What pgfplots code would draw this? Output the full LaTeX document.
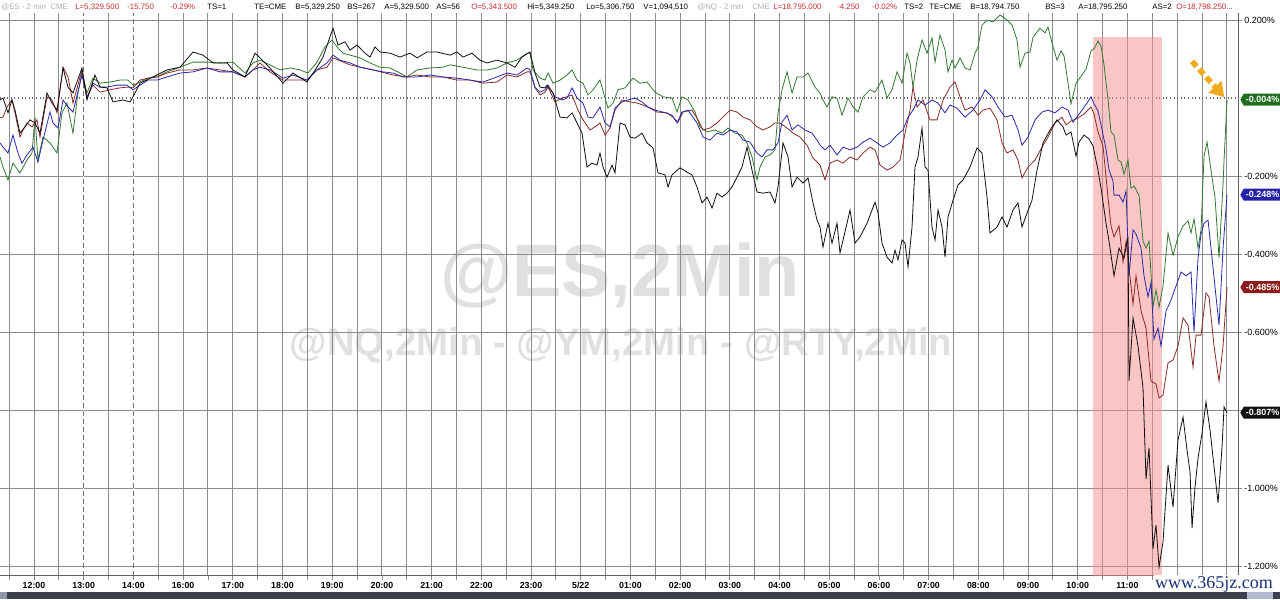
\documentclass[border=0pt]{standalone}
\usepackage{fontspec}
\setmainfont{Liberation Sans}
\usepackage{pgfplots}
\pgfplotsset{compat=1.18}
\usetikzlibrary{arrows.meta,shapes.symbols}

\definecolor{esblack}{RGB}{15,15,15}
\definecolor{nqblue}{RGB}{40,40,170}
\definecolor{ymred}{RGB}{140,40,40}
\definecolor{rtygreen}{RGB}{50,120,50}
\definecolor{gridgray}{RGB}{140,140,140}
\definecolor{hdrred}{RGB}{200,45,45}
\definecolor{hdrgray}{RGB}{175,175,175}
\definecolor{wmgray}{RGB}{224,224,224}
\definecolor{bandpink}{RGB}{245,140,140}
\definecolor{arroworange}{RGB}{240,170,30}
\definecolor{sitenavy}{RGB}{25,50,120}
\definecolor{barslate}{RGB}{58,64,76}
\definecolor{barlight}{RGB}{178,188,206}
\definecolor{taggreen}{RGB}{30,110,30}
\definecolor{tagblue}{RGB}{35,35,170}
\definecolor{tagred}{RGB}{140,28,28}
\definecolor{tagblack}{RGB}{17,17,17}

\newcommand\hdr{\fontsize{5.9}{7}\selectfont}
\tikzset{tag/.style={signal, signal to=west, signal pointer angle=120, anchor=west, xshift=1.5pt,
    inner xsep=1.5pt, inner ysep=1.2pt, minimum height=9pt, text=white,
    font=\bfseries\fontsize{6.75}{7}\selectfont}}

\begin{document}
\begin{tikzpicture}
\useasboundingbox (0,-17.25pt) rectangle (960pt,432pt);

% decorations in pixel coordinates of the screenshot
\begin{scope}[x=0.75pt,y=-0.75pt,shift={(0,432pt)}]
  \node[anchor=base,text=wmgray,font=\bfseries\fontsize{55.5}{56}\selectfont,inner sep=0] at (620,297) {@ES,2Min};
  \node[anchor=base,text=wmgray,font=\bfseries\fontsize{28.8}{29}\selectfont,inner sep=0] at (621,356) {@NQ,2Min - @YM,2Min - @RTY,2Min};
  \begin{scope}[every node/.style={anchor=base west,inner sep=0,font=\hdr}]
    \node[text=hdrgray] at (1,10) {@ES - 2 min\ \ CME};
    \node[text=hdrred] at (75,10) {L=5,329.500};
    \node[text=hdrred] at (127,10) {-15.750};
    \node[text=hdrred] at (170,10) {-0.29\%};
    \node at (207,10) {TS=1};
    \node at (254,10) {TE=CME};
    \node at (295,10) {B=5,329.250};
    \node at (347,10) {BS=267};
    \node at (384,10) {A=5,329.500};
    \node at (436,10) {AS=56};
    \node[text=hdrred] at (471,10) {O=5,343.500};
    \node at (527,10) {Hi=5,349.250};
    \node at (586,10) {Lo=5,306.750};
    \node at (643,10) {V=1,094,510};
    \node[text=hdrgray] at (697,10) {@NQ - 2 min};
    \node[text=hdrgray] at (752,10) {CME};
    \node[text=hdrred] at (773,10) {L=18,795.000};
    \node[text=hdrred] at (837,10) {-4.250};
    \node[text=hdrred] at (872,10) {-0.02\%};
    \node at (904,10) {TS=2};
    \node at (929,10) {TE=CME};
    \node at (970,10) {B=18,794.750};
    \node at (1045,10) {BS=3};
    \node at (1078,10) {A=18,795.250};
    \node at (1152,10) {AS=2};
    \node[text=hdrred] at (1176,10) {O=18,798.250...};
  \end{scope}
\end{scope}

\begin{axis}[
  at={(0,0)}, anchor=south west,
  scale only axis, width=928.5pt, height=422.25pt,
  xmin=-0.684, xmax=24.225, ymin=-1.2256, ymax=0.218,
  axis x line*=bottom, axis y line*=right,
  axis line style={draw={rgb,255:red,95;green,95;blue,95}, line width=0.75pt},
  tick align=outside, major tick length=3pt, minor tick length=3pt,
  tick style={gridgray, line width=0.6pt},
  xtick={0,...,22},
  xticklabels={12:00,13:00,14:00,16:00,17:00,18:00,19:00,20:00,21:00,22:00,23:00,5/22,01:00,02:00,03:00,04:00,05:00,06:00,07:00,08:00,09:00,10:00,11:00},
  minor xtick={-0.5,0.5,...,21.5,22.5,23,23.5,24},
  xmajorgrids, xminorgrids, ymajorgrids,
  major grid style={gridgray, line width=0.7pt},
  minor grid style={gridgray, line width=0.7pt},
  ytick={0.2,-0.2,-0.4,-0.6,-0.8,-1.0,-1.2},
  yticklabels={0.200\%,-0.200\%,-0.400\%,-0.600\%,,-1.000\%,-1.200\%},
  extra y ticks={0}, extra y tick labels={},
  extra y tick style={major tick length=0pt, grid=major, major grid style={gridgray!75!black, dotted, line width=0.8pt}},
  xticklabel style={font=\bfseries\fontsize{6.6}{7}\selectfont, inner sep=1.5pt},
  yticklabel style={font=\fontsize{6.75}{7}\selectfont, inner sep=1.5pt},
  clip mode=individual,
]

% session break markers at 13:00 and 14:00
\draw[white, line width=1.2pt] (axis cs:1,-1.2256) -- (axis cs:1,0.218);
\draw[white, line width=1.2pt] (axis cs:2,-1.2256) -- (axis cs:2,0.218);
\draw[gridgray!80!black, line width=0.7pt, dash pattern=on 4pt off 2pt] (axis cs:1,-1.2256) -- (axis cs:1,0.218);
\draw[gridgray!80!black, line width=0.7pt, dash pattern=on 4pt off 2pt] (axis cs:2,-1.2256) -- (axis cs:2,0.218);

% highlighted selloff window
\addplot[draw=none, fill=bandpink, fill opacity=0.5] coordinates {
  (21.308,0.156) (22.696,0.156) (22.696,-1.2256) (21.308,-1.2256)} -- cycle;

% RTY (green)
\addplot[rtygreen, line width=0.6pt] coordinates {
(-0.684,-0.151) (-0.624,-0.177) (-0.523,-0.210) (-0.423,-0.167) (-0.282,-0.192) (-0.141,-0.159)
(-0.040,-0.141) (0.020,-0.049) (0.080,-0.159) (0.181,-0.100) (0.322,-0.115) (0.463,-0.141)
(0.563,-0.038) (0.664,-0.013) (0.785,-0.090) (0.885,0.013) (0.966,0.067) (1.066,0.013)
(1.187,0.051) (1.328,0.038) (1.529,0.041) (1.730,0.046) (1.891,0.046) (1.992,0.033)
(2.133,0.041) (2.294,0.051) (2.475,0.054) (2.676,0.067) (2.938,0.079) (3.199,0.092)
(3.481,0.092) (3.742,0.090) (4.004,0.092) (4.245,0.064) (4.406,0.090) (4.547,0.097)
(4.748,0.085) (4.950,0.072) (5.151,0.077) (5.352,0.072) (5.513,0.064) (5.694,0.092)
(5.855,0.131) (5.996,0.149) (6.117,0.128) (6.217,0.115) (6.358,0.110) (6.559,0.103)
(6.761,0.090) (6.962,0.079) (7.163,0.077) (7.364,0.064) (7.505,0.054) (7.706,0.072)
(7.968,0.077) (8.229,0.079) (8.370,0.085) (8.632,0.079) (8.913,0.072) (9.115,0.072)
(9.316,0.077) (9.517,0.090) (9.718,0.097) (9.920,0.115) (9.980,0.115) (10.040,0.072)
(10.181,0.051) (10.282,0.046) (10.342,0.064) (10.443,0.038) (10.584,0.046) (10.724,0.059)
(10.825,0.072) (10.926,0.046) (11.046,0.038) (11.147,0.008) (11.247,0.021) (11.388,0.046)
(11.489,0.000) (11.549,-0.026) (11.650,-0.013) (11.751,0.021) (11.891,0.026) (12.052,0.051)
(12.193,0.038) (12.334,0.041) (12.495,0.015) (12.656,0.003) (12.837,0.000) (12.938,-0.036)
(13.038,0.003) (13.159,-0.005) (13.300,-0.036) (13.400,-0.074) (13.541,-0.087) (13.702,-0.082)
(13.843,-0.090) (13.964,-0.077) (14.105,-0.090) (14.245,-0.095) (14.346,-0.115) (14.447,-0.151)
(14.547,-0.210) (14.608,-0.177) (14.708,-0.151) (14.809,-0.146) (14.909,-0.133) (14.970,-0.038)
(15.050,0.021) (15.151,0.067) (15.252,0.013) (15.352,0.054) (15.473,0.054) (15.573,0.064)
(15.714,0.028) (15.815,0.013) (15.875,-0.005) (15.956,-0.023) (16.056,0.003) (16.157,0.000)
(16.258,-0.044) (16.378,0.000) (16.479,-0.023) (16.579,-0.036) (16.680,0.003) (16.821,0.021)
(16.922,0.015) (17.062,0.046) (17.163,0.000) (17.264,0.021) (17.364,0.067) (17.465,0.038)
(17.565,0.115) (17.626,0.090) (17.686,0.028) (17.767,0.097) (17.867,0.149) (17.968,0.115)
(18.068,0.154) (18.129,0.092) (18.229,0.162) (18.330,0.123) (18.390,0.067) (18.471,0.097)
(18.531,0.077) (18.632,0.103) (18.732,0.077) (18.833,0.072) (18.934,0.115) (18.994,0.131)
(19.074,0.187) (19.175,0.200) (19.296,0.195) (19.437,0.213) (19.577,0.200) (19.678,0.187)
(19.779,0.149) (19.839,0.079) (19.940,0.115) (20.040,0.118) (20.101,0.156) (20.241,0.179)
(20.342,0.167) (20.402,0.182) (20.483,0.141) (20.583,0.097) (20.664,0.121) (20.724,0.108)
(20.805,0.038) (20.865,-0.015) (20.966,0.038) (21.066,0.056) (21.167,0.074) (21.268,0.121)
(21.328,0.126) (21.408,0.146) (21.469,0.133) (21.529,0.085) (21.610,-0.005) (21.670,-0.087)
(21.730,-0.095) (21.811,-0.159) (21.871,-0.164) (21.932,-0.195) (22.012,-0.159) (22.072,-0.231)
(22.133,-0.226) (22.233,-0.249) (22.314,-0.367) (22.374,-0.385) (22.435,-0.367) (22.515,-0.536)
(22.575,-0.492) (22.636,-0.536) (22.716,-0.482) (22.817,-0.346) (22.917,-0.403) (23.018,-0.356)
(23.119,-0.328) (23.219,-0.315) (23.280,-0.346) (23.340,-0.310) (23.421,-0.385) (23.481,-0.338)
(23.541,-0.149) (23.602,-0.113) (23.682,-0.185) (23.763,-0.256) (23.843,-0.410) (23.924,-0.221)
(23.944,-0.159) (24.004,-0.004)};

% YM (maroon)
\addplot[ymred, line width=0.6pt] coordinates {
(-0.684,-0.051) (-0.624,-0.049) (-0.543,-0.023) (-0.443,-0.005) (-0.382,-0.038) (-0.282,-0.100)
(-0.221,-0.082) (-0.141,-0.064) (-0.040,-0.074) (0.060,-0.056) (0.121,-0.100) (0.262,0.003)
(0.362,-0.005) (0.463,-0.038) (0.584,0.079) (0.684,0.054) (0.785,-0.013) (0.966,0.072)
(1.066,0.003) (1.187,0.033) (1.328,0.015) (1.529,0.021) (1.730,0.026) (1.891,0.028)
(1.992,0.026) (2.133,0.046) (2.294,0.051) (2.475,0.054) (2.676,0.064) (2.938,0.072)
(3.199,0.072) (3.481,0.077) (3.742,0.072) (4.004,0.067) (4.245,0.054) (4.406,0.072)
(4.547,0.090) (4.748,0.067) (5.010,0.046) (5.493,0.046) (5.694,0.072) (5.895,0.079)
(6.016,0.103) (6.358,0.085) (6.821,0.072) (7.223,0.059) (7.505,0.054) (7.706,0.059)
(7.968,0.054) (8.229,0.054) (8.511,0.046) (8.773,0.046) (9.034,0.038) (9.316,0.041)
(9.517,0.059) (9.718,0.054) (9.920,0.067) (9.980,0.067) (10.080,0.026) (10.181,0.008)
(10.282,0.015) (10.342,0.028) (10.483,-0.010) (10.624,0.000) (10.724,0.003) (10.825,0.008)
(10.946,-0.031) (11.046,-0.056) (11.187,-0.082) (11.288,-0.074) (11.388,-0.064) (11.489,-0.095)
(11.590,-0.077) (11.690,-0.031) (11.831,-0.005) (11.992,-0.010) (12.133,-0.013) (12.254,-0.018)
(12.394,-0.026) (12.535,-0.036) (12.736,-0.038) (12.857,-0.049) (12.958,-0.062) (13.058,-0.036)
(13.239,-0.031) (13.360,-0.056) (13.461,-0.082) (13.602,-0.077) (13.742,-0.064) (13.863,-0.049)
(14.004,-0.031) (14.145,-0.036) (14.266,-0.049) (14.406,-0.056) (14.547,-0.074) (14.668,-0.082)
(14.809,-0.074) (14.909,-0.064) (15.010,-0.064) (15.151,-0.077) (15.272,-0.090) (15.412,-0.100)
(15.553,-0.121) (15.674,-0.154) (15.815,-0.172) (15.915,-0.210) (16.016,-0.167) (16.157,-0.159)
(16.278,-0.167) (16.419,-0.151) (16.559,-0.159) (16.680,-0.141) (16.821,-0.126) (16.922,-0.133)
(17.022,-0.172) (17.163,-0.185) (17.284,-0.177) (17.425,-0.159) (17.525,-0.090) (17.626,-0.031)
(17.686,0.028) (17.767,-0.023) (17.887,-0.005) (18.028,-0.056) (18.169,-0.056) (18.290,-0.005)
(18.431,0.028) (18.531,0.041) (18.632,0.003) (18.732,-0.031) (18.873,-0.023) (18.994,-0.044)
(19.095,-0.031) (19.235,-0.026) (19.376,-0.056) (19.477,-0.115) (19.577,-0.141) (19.698,-0.133)
(19.799,-0.159) (19.879,-0.205) (20.000,-0.177) (20.141,-0.159) (20.282,-0.126) (20.402,-0.100)
(20.543,-0.064) (20.684,-0.049) (20.765,-0.069) (20.865,-0.059) (21.006,-0.051) (21.127,-0.041)
(21.268,-0.023) (21.328,-0.041) (21.408,-0.087) (21.509,-0.123) (21.610,-0.256) (21.670,-0.328)
(21.730,-0.356) (21.831,-0.328) (21.911,-0.421) (21.972,-0.367) (22.032,-0.438) (22.113,-0.528)
(22.173,-0.456) (22.274,-0.546) (22.374,-0.590) (22.475,-0.726) (22.575,-0.733) (22.636,-0.769)
(22.716,-0.762) (22.817,-0.679) (22.917,-0.672) (23.018,-0.636) (23.119,-0.564) (23.219,-0.582)
(23.320,-0.690) (23.380,-0.608) (23.481,-0.608) (23.581,-0.500) (23.642,-0.510) (23.742,-0.636)
(23.843,-0.726) (23.924,-0.636) (24.004,-0.485)};

% NQ (blue)
\addplot[nqblue, line width=0.6pt] coordinates {
(-0.684,-0.115) (-0.624,-0.126) (-0.523,-0.141) (-0.423,-0.095) (-0.322,-0.141) (-0.241,-0.167)
(-0.141,-0.146) (-0.020,-0.126) (0.080,-0.164) (0.181,-0.108) (0.322,-0.036) (0.382,-0.064)
(0.483,-0.077) (0.584,-0.005) (0.684,-0.023) (0.785,-0.036) (0.966,0.059) (1.066,0.000)
(1.187,0.038) (1.328,0.028) (1.469,0.028) (1.670,0.033) (1.871,0.033) (1.992,0.021)
(2.133,0.033) (2.294,0.046) (2.475,0.046) (2.676,0.054) (2.938,0.064) (3.199,0.067)
(3.481,0.077) (3.742,0.067) (4.004,0.067) (4.245,0.054) (4.406,0.072) (4.547,0.079)
(4.748,0.072) (5.010,0.051) (5.211,0.059) (5.493,0.046) (5.694,0.072) (5.895,0.090)
(6.016,0.110) (6.157,0.097) (6.358,0.090) (6.559,0.079) (6.821,0.072) (7.022,0.067)
(7.223,0.064) (7.425,0.054) (7.706,0.054) (7.968,0.059) (8.229,0.054) (8.511,0.051)
(8.773,0.046) (9.034,0.041) (9.316,0.054) (9.517,0.064) (9.718,0.059) (9.920,0.077)
(9.980,0.072) (10.080,0.028) (10.181,0.015) (10.282,0.021) (10.342,0.033) (10.483,0.003)
(10.624,-0.005) (10.724,0.000) (10.825,0.026) (10.926,0.000) (11.046,-0.013) (11.147,-0.049)
(11.247,-0.051) (11.388,-0.023) (11.489,-0.064) (11.590,-0.074) (11.690,-0.026) (11.831,-0.010)
(11.952,-0.005) (12.093,0.000) (12.233,-0.010) (12.354,-0.023) (12.495,-0.031) (12.656,-0.036)
(12.837,-0.044) (12.938,-0.064) (13.038,-0.036) (13.159,-0.031) (13.340,-0.064) (13.461,-0.100)
(13.602,-0.108) (13.742,-0.090) (13.863,-0.095) (14.004,-0.082) (14.145,-0.087) (14.266,-0.108)
(14.406,-0.113) (14.547,-0.141) (14.648,-0.151) (14.748,-0.133) (14.869,-0.133) (14.970,-0.115)
(15.050,-0.062) (15.151,-0.044) (15.252,-0.082) (15.372,-0.069) (15.513,-0.082) (15.654,-0.090)
(15.755,-0.108) (15.815,-0.121) (15.915,-0.133) (16.016,-0.121) (16.157,-0.146) (16.278,-0.126)
(16.419,-0.133) (16.559,-0.126) (16.680,-0.113) (16.821,-0.103) (16.962,-0.115) (17.082,-0.126)
(17.223,-0.115) (17.364,-0.095) (17.485,-0.082) (17.586,-0.049) (17.686,-0.031) (17.787,-0.005)
(17.928,-0.018) (18.068,-0.005) (18.189,-0.013) (18.330,-0.038) (18.431,-0.018) (18.571,-0.026)
(18.732,-0.049) (18.893,-0.031) (19.034,-0.005) (19.135,0.021) (19.276,0.003) (19.396,-0.023)
(19.537,-0.049) (19.678,-0.044) (19.799,-0.082) (19.879,-0.121) (20.000,-0.100) (20.141,-0.056)
(20.282,-0.036) (20.402,-0.031) (20.543,-0.038) (20.684,-0.023) (20.805,-0.031) (20.905,-0.062)
(21.046,-0.038) (21.187,-0.013) (21.268,0.003) (21.328,-0.015) (21.408,-0.033) (21.469,-0.069)
(21.569,-0.131) (21.630,-0.185) (21.710,-0.213) (21.730,-0.249) (21.831,-0.249) (21.911,-0.267)
(21.972,-0.238) (22.032,-0.456) (22.113,-0.338) (22.173,-0.349) (22.274,-0.385) (22.334,-0.456)
(22.414,-0.510) (22.475,-0.474) (22.535,-0.618) (22.616,-0.590) (22.676,-0.636) (22.777,-0.546)
(22.877,-0.518) (22.978,-0.482) (23.078,-0.446) (23.179,-0.456) (23.280,-0.446) (23.340,-0.600)
(23.421,-0.410) (23.481,-0.349) (23.541,-0.321) (23.622,-0.313) (23.682,-0.385) (23.783,-0.510)
(23.843,-0.582) (23.924,-0.385) (24.004,-0.248)};

% ES (black)
\addplot[esblack, line width=0.6pt] coordinates {
(-0.684,-0.005) (-0.624,0.000) (-0.523,-0.038) (-0.443,-0.005) (-0.382,-0.031) (-0.282,-0.090)
(-0.181,-0.074) (-0.080,-0.056) (0.020,-0.064) (0.121,-0.090) (0.262,0.013) (0.362,-0.013)
(0.463,-0.031) (0.584,0.077) (0.684,0.028) (0.785,0.013) (0.966,0.077) (1.066,-0.005)
(1.227,0.059) (1.328,0.028) (1.469,0.026) (1.590,-0.010) (1.791,-0.005) (1.932,-0.010)
(1.992,0.003) (2.133,0.038) (2.394,0.054) (2.676,0.072) (2.938,0.079) (3.199,0.118)
(3.400,0.110) (3.602,0.090) (3.883,0.090) (4.004,0.072) (4.245,0.054) (4.447,0.115)
(4.547,0.103) (4.748,0.077) (5.010,0.038) (5.211,0.064) (5.493,0.041) (5.694,0.079)
(5.815,0.105) (6.016,0.179) (6.117,0.136) (6.258,0.144) (6.358,0.123) (6.499,0.136)
(6.660,0.115) (6.761,0.105) (6.861,0.131) (6.962,0.118) (7.163,0.115) (7.364,0.105)
(7.565,0.115) (7.706,0.103) (7.907,0.118) (8.109,0.118) (8.370,0.110) (8.511,0.118)
(8.632,0.105) (8.813,0.115) (8.974,0.097) (9.115,0.090) (9.316,0.097) (9.517,0.090)
(9.678,0.079) (9.819,0.105) (9.980,0.118) (10.080,0.064) (10.181,0.028) (10.282,0.026)
(10.322,0.033) (10.443,0.013) (10.584,-0.049) (10.724,-0.051) (10.825,-0.038) (10.926,-0.064)
(11.026,-0.090) (11.127,-0.177) (11.227,-0.167) (11.328,-0.172) (11.388,-0.141) (11.449,-0.177)
(11.529,-0.203) (11.630,-0.172) (11.690,-0.192) (11.791,-0.064) (11.891,-0.069) (11.992,-0.100)
(12.093,-0.103) (12.233,-0.090) (12.334,-0.115) (12.455,-0.128) (12.555,-0.192) (12.696,-0.197)
(12.757,-0.228) (12.837,-0.197) (12.998,-0.179) (13.139,-0.190) (13.239,-0.197) (13.340,-0.228)
(13.441,-0.269) (13.541,-0.254) (13.642,-0.282) (13.742,-0.244) (13.843,-0.254) (13.944,-0.244)
(14.044,-0.228) (14.145,-0.203) (14.245,-0.177) (14.346,-0.126) (14.447,-0.185) (14.547,-0.241)
(14.668,-0.244) (14.809,-0.241) (14.909,-0.269) (14.970,-0.228) (15.070,-0.115) (15.171,-0.151)
(15.252,-0.228) (15.352,-0.203) (15.473,-0.218) (15.573,-0.205) (15.674,-0.269) (15.755,-0.313)
(15.815,-0.331) (15.875,-0.382) (15.976,-0.321) (16.056,-0.372) (16.157,-0.321) (16.217,-0.397)
(16.358,-0.321) (16.419,-0.287) (16.519,-0.372) (16.620,-0.356) (16.761,-0.321) (16.922,-0.267)
(16.982,-0.295) (17.062,-0.372) (17.163,-0.408) (17.264,-0.423) (17.324,-0.390) (17.384,-0.415)
(17.465,-0.364) (17.525,-0.372) (17.586,-0.433) (17.666,-0.331) (17.726,-0.177) (17.787,-0.151)
(17.867,-0.077) (17.928,-0.177) (17.988,-0.185) (18.068,-0.331) (18.129,-0.364) (18.189,-0.287)
(18.270,-0.331) (18.330,-0.408) (18.390,-0.305) (18.491,-0.262) (18.592,-0.223) (18.692,-0.210)
(18.833,-0.177) (18.974,-0.128) (19.074,-0.141) (19.175,-0.254) (19.235,-0.346) (19.376,-0.331)
(19.477,-0.305) (19.577,-0.331) (19.698,-0.287) (19.799,-0.269) (19.879,-0.331) (19.980,-0.295)
(20.080,-0.262) (20.181,-0.185) (20.302,-0.115) (20.443,-0.082) (20.583,-0.056) (20.704,-0.074)
(20.765,-0.095) (20.865,-0.087) (20.966,-0.149) (21.026,-0.113) (21.127,-0.095) (21.227,-0.105)
(21.308,-0.123) (21.408,-0.185) (21.469,-0.231) (21.569,-0.321) (21.630,-0.367) (21.730,-0.456)
(21.831,-0.385) (21.932,-0.410) (22.012,-0.356) (22.032,-0.726) (22.113,-0.564) (22.213,-0.636)
(22.314,-0.744) (22.374,-0.977) (22.435,-0.897) (22.515,-1.156) (22.575,-1.095) (22.636,-1.203)
(22.716,-1.138) (22.817,-0.941) (22.917,-1.049) (23.018,-0.877) (23.119,-0.818) (23.199,-0.903)
(23.260,-0.959) (23.300,-1.103) (23.360,-0.997) (23.421,-0.923) (23.501,-0.859) (23.581,-0.779)
(23.662,-0.851) (23.722,-0.921) (23.823,-1.038) (23.903,-0.895) (23.944,-0.792) (24.004,-0.807)};

% last-value tags on the right
\node[tag, fill=taggreen] at (axis cs:24.225,-0.004) {-0.004\%};
\node[tag, fill=tagblue] at (axis cs:24.225,-0.248) {-0.248\%};
\node[tag, fill=tagred] at (axis cs:24.225,-0.485) {-0.485\%};
\node[tag, fill=tagblack] at (axis cs:24.225,-0.807) {-0.807\%};

% orange pointer
\draw[arroworange, line width=4.2pt, line cap=butt, dash pattern=on 5pt off 3pt,
  -{Triangle[length=10.5pt,width=12.5pt]}] (axis cs:23.30,0.094) -- (axis cs:23.95,0.002);
\end{axis}

% site mark and bottom bar
\begin{scope}[x=0.75pt,y=-0.75pt,shift={(0,432pt)}]
  \node[fill=white, inner sep=1pt, text=sitenavy, font=\fontspec{Liberation Serif}\fontsize{13.5}{14}\selectfont] at (1214,584) {www.365jz.com};
  \fill[barslate] (0,592) rectangle (1280,599);
  \fill[barlight] (1247,592) rectangle (1273,599);
  \fill[barlight!70!barslate] (0,592) rectangle (7,599);
\end{scope}
\end{tikzpicture}
\end{document}
